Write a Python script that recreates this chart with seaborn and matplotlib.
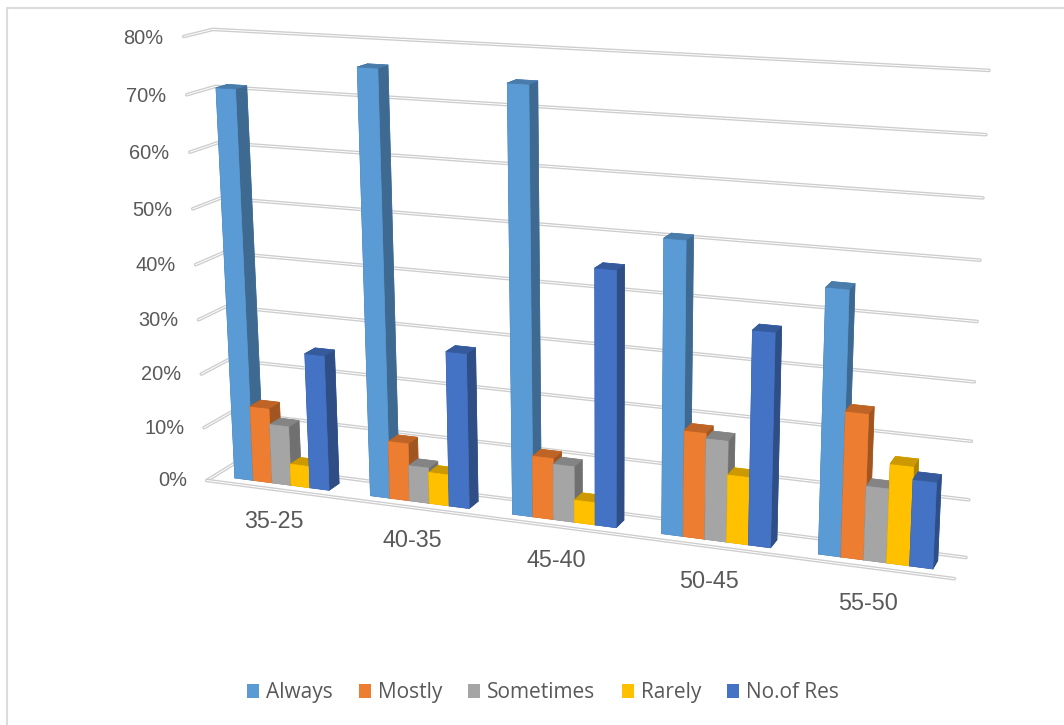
import numpy as np
import matplotlib
matplotlib.use("Agg")
import matplotlib.pyplot as plt
import matplotlib.patheffects as pe
from matplotlib.lines import Line2D
from matplotlib.patches import Patch
from mpl_toolkits.mplot3d import proj3d
import seaborn as sns

# Survey answers per age band, in percent
age_bands = ["35-25", "40-35", "45-40", "50-45", "55-50"]
always = [71, 76, 74.8, 51, 45.2]
mostly = [14, 10.5, 11, 18.7, 25]
sometimes = [11, 6.5, 10, 17.8, 12.7]
rarely = [4, 5.7, 4, 11.8, 17]
no_of_res = [24.9, 28, 45, 37, 14.8]
series_names = ["Always", "Mostly", "Sometimes", "Rarely", "No.of Res"]
series_colors = ["#5B9BD5", "#ED7D31", "#A5A5A5", "#FFC000", "#4472C4"]
value_ticks = [0, 10, 20, 30, 40, 50, 60, 70, 80]

sns.set_theme(style="white")
palette = sns.color_palette(series_colors)
plt.rcParams["font.family"] = ["Liberation Sans", "DejaVu Sans"]
TEXT = "#595959"
W, H = 1064, 725

fig = plt.figure(figsize=(W / 100, H / 100), dpi=100, facecolor="white")
ax = fig.add_axes([0, 0, 1, 1], projection="3d", computed_zorder=False)
ax.set_axis_off()
ax.patch.set_alpha(0)
ax.apply_aspect()

# Camera: category / depth / value space to image pixels (y down)
camera = np.array([
    [127.52552180, 32.32613595, -0.41364732, 206.83336683],
    [6.31678525, -6.04451186, -5.57453219, 480.46262105],
    [-0.02303482, 0.02283253, -0.00068192, 1.0],
])
flip = np.array([[1, 0, 0], [0, -1, H], [0, 0, 1]], float)
to_view = ax.transData.inverted().get_matrix() @ flip @ camera
view_matrix = np.vstack([to_view[0], to_view[1], [0, 0, 0, -1], to_view[2]])
ax.get_proj = lambda: view_matrix


def rule(xs, ys, zs):
    """Wall or floor rule, drawn as a pale double stroke."""
    ax.plot(xs, ys, zs, color="white", lw=0.7, zorder=1, solid_capstyle="round", clip_on=False,
            path_effects=[pe.withStroke(linewidth=2.6, foreground="#cdcdcd")])


def label(x, y, z, text, **kwargs):
    """Axis label anchored at a projected scene point."""
    px, py, _ = proj3d.proj_transform(x, y, z, view_matrix)
    ax.text2D(px, py, text, transform=ax.transData, va="center", color=TEXT, clip_on=False, **kwargs)


n = len(age_bands)
for v in value_ticks:
    rule([0, 0, n], [0, 1, 1], [v, v, v])
    label(-0.15, 0, v - 0.55, f"{v}%", ha="right", fontsize=14.4)
rule([0, n], [0, 0], [0, 0])

for i, band in enumerate(age_bands):
    label(i + 0.492, 0, -6.2, band, ha="center", fontsize=16.8)

# Columns, left to right so nearer ones overlap
bar_w = 0.14
side_gap = (1 - bar_w * len(series_names)) / 2
depth_start, depth = 0.3, 0.4
series_values = [always, mostly, sometimes, rarely, no_of_res]
order = 2
for i in range(n):
    for j, values in enumerate(series_values):
        base = np.array(palette[j])
        # face order of bar3d: bottom, top, front, back, left, right
        faces = [tuple(base * k) for k in (0.8, 0.8, 1, 1, 0.68, 0.68)]
        bar = ax.bar3d(i + side_gap + j * bar_w, depth_start, 0, bar_w, depth, values[i],
                       color=faces, edgecolors=faces, linewidths=0.5, shade=False, zorder=order)
        bar.set_clip_on(False)
        order += 1

# Legend below the plot
handles = [Patch(facecolor=c, edgecolor="none") for c in palette]
fig.legend(handles, series_names, loc="center", bbox_to_anchor=(543 / W, 1 - 692.5 / H),
           ncol=5, frameon=False, handlelength=0.58, handleheight=0.67, handletextpad=0.33,
           columnspacing=1.25, labelcolor=TEXT, prop={"family": "Open Sans", "size": 15})

# Chart frame: left and top edges
fig.add_artist(Line2D([7 / W, 7 / W, 1], [0, 1 - 8 / H, 1 - 8 / H], color="#dcdcdc", lw=1.5,
                      transform=fig.transFigure))

fig.savefig("out.png", dpi=100)
